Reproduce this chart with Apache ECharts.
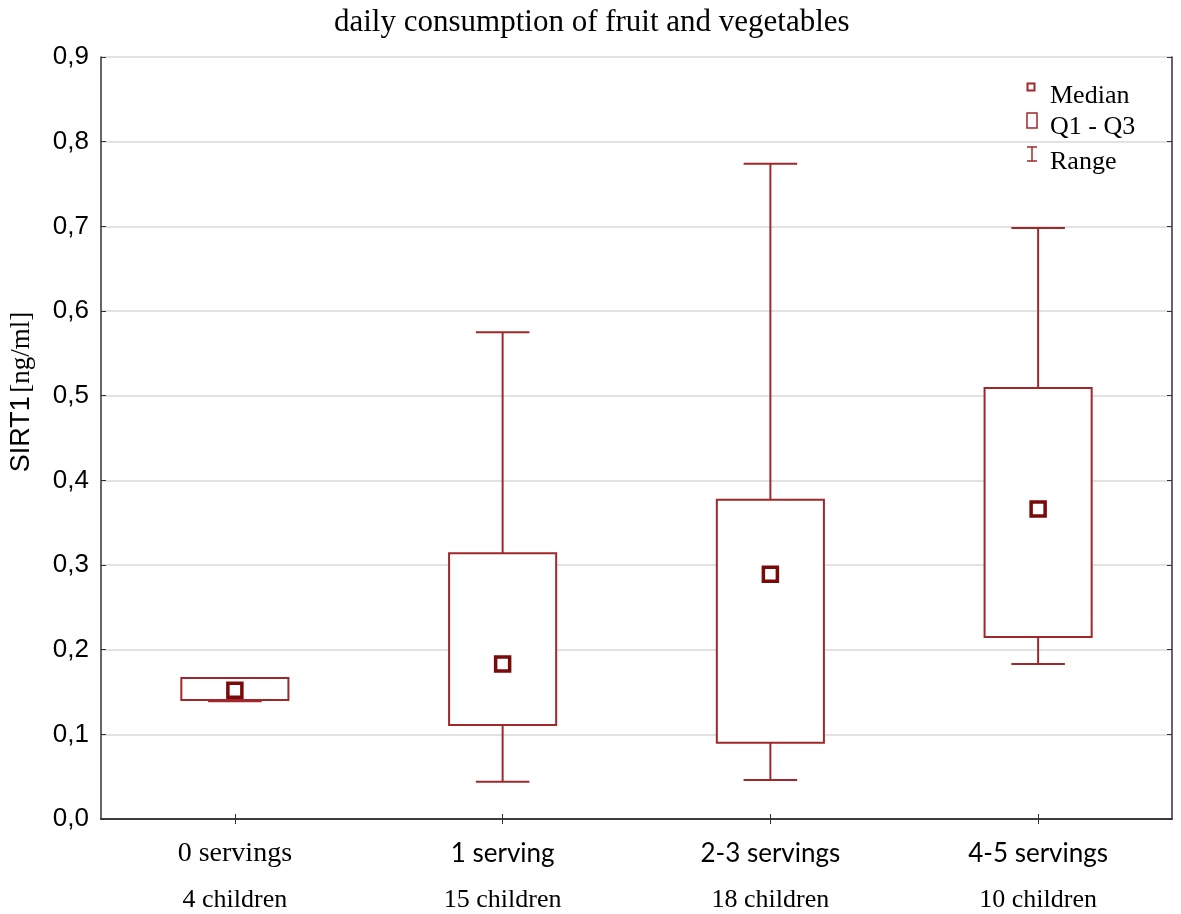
<!DOCTYPE html>
<html>
<head>
<meta charset="utf-8">
<script src="https://cdn.jsdelivr.net/npm/echarts@6/dist/echarts.min.js"></script>
<style>
    html, body { margin: 0; padding: 0; background: #fff; }
    #main { width: 1181px; height: 914px; }
</style>
</head>
<body>
<div id="main"></div>
<script>
// values (SIRT1, ng/ml)
const categories = ['0 servings', '1 serving', '2-3 servings', '4-5 servings']
const counts = ['4 children', '15 children', '18 children', '10 children']
const minValues = [0.139, 0.044, 0.046, 0.183]
const q1Values = [0.1405, 0.111, 0.090, 0.215]
const medianValues = [0.152, 0.183, 0.289, 0.366]
const q3Values = [0.1665, 0.314, 0.377, 0.509]
const maxValues = [0.1665, 0.575, 0.774, 0.698]

const boxColor = '#a0282c'
const medianColor = '#7a0a0a'
const serif = 'Liberation Serif'
const sans = 'Liberation Sans'

const chart = echarts.init(document.getElementById('main'))

function renderBox(params, api) {
    const x = api.value(0)
    const lo = api.coord([x, api.value(1)])
    const hi = api.coord([x, api.value(2)])
    const w = api.size([1, 0])[0] * 0.4
    return {
        type: 'rect',
        shape: { x: lo[0] - w / 2, y: hi[1], width: w, height: lo[1] - hi[1] },
        style: { fill: '#fff', stroke: boxColor, lineWidth: 2 }
    }
}

function renderRange(params, api) {
    const x = api.value(0)
    const pMin = api.coord([x, api.value(1)])
    const pQ1 = api.coord([x, api.value(2)])
    const pQ3 = api.coord([x, api.value(3)])
    const pMax = api.coord([x, api.value(4)])
    const c = api.size([1, 0])[0] * 0.1
    const style = { stroke: boxColor, lineWidth: 2 }
    return {
        type: 'group',
        children: [
            { type: 'line', shape: { x1: pMax[0], y1: pMax[1], x2: pQ3[0], y2: pQ3[1] }, style },
            { type: 'line', shape: { x1: pQ1[0], y1: pQ1[1], x2: pMin[0], y2: pMin[1] }, style },
            { type: 'line', shape: { x1: pMax[0] - c, y1: pMax[1], x2: pMax[0] + c, y2: pMax[1] }, style },
            { type: 'line', shape: { x1: pMin[0] - c, y1: pMin[1], x2: pMin[0] + c, y2: pMin[1] }, style }
        ]
    }
}

const frameLine = { show: true, lineStyle: { color: '#333', width: 1.5 } }
const innerTick = { show: true, inside: true, length: 5, lineStyle: { color: '#333' } }

chart.setOption({
    animation: false,
    backgroundColor: '#fff',
    title: {
        text: 'daily consumption of fruit and vegetables',
        left: 329,
        top: 2,
        textStyle: { fontFamily: serif, fontSize: 31, fontWeight: 'normal', color: '#000' }
    },
    grid: { left: 100, right: 9, top: 57, bottom: 95 },
    xAxis: [{
        type: 'category',
        data: categories,
        position: 'bottom',
        axisLine: frameLine,
        axisTick: Object.assign({ alignWithLabel: true }, innerTick),
        axisLabel: {
            margin: 13,
            interval: 0,
            formatter: (v, i) => (i === 0 ? `{s|${v}}` : `{t|${v}}`) + `\n{n|${counts[i]}}`,
            rich: {
                s: { fontFamily: serif, fontSize: 28, lineHeight: 44, color: '#000' },
                t: { fontFamily: 'Lato', fontSize: 26, lineHeight: 44, color: '#000' },
                n: { fontFamily: serif, fontSize: 26, lineHeight: 48, color: '#000' }
            }
        },
        splitLine: { show: false }
    }, {
        type: 'category',
        data: categories,
        position: 'top',
        axisLine: frameLine,
        axisTick: Object.assign({ alignWithLabel: true }, innerTick),
        axisLabel: { show: false },
        splitLine: { show: false }
    }],
    yAxis: [{
        type: 'value',
        min: 0,
        max: 0.9,
        interval: 0.1,
        position: 'left',
        name: '{a|SIRT1} {b|[ng/ml]}',
        nameLocation: 'middle',
        nameRotate: 90,
        nameGap: 66,
        nameTextStyle: {
            padding: [0, 0, 0, 92],
            rich: {
                a: { fontFamily: sans, fontSize: 27, color: '#000' },
                b: { fontFamily: serif, fontSize: 27, color: '#000' }
            }
        },
        axisLine: frameLine,
        axisTick: innerTick,
        axisLabel: {
            margin: 12,
            fontFamily: sans,
            fontSize: 26,
            color: '#000',
            formatter: v => v.toFixed(1).replace('.', ',')
        },
        splitLine: { show: true, lineStyle: { color: '#d9d9d9', width: 1.5 } }
    }, {
        type: 'value',
        min: 0,
        max: 0.9,
        interval: 0.1,
        position: 'right',
        axisLine: frameLine,
        axisTick: innerTick,
        axisLabel: { show: false },
        splitLine: { show: false }
    }],
    series: [
        {
            name: 'Q1 - Q3',
            type: 'custom',
            renderItem: renderBox,
            encode: { x: 0, y: [1, 2] },
            data: categories.map((c, i) => [i, q1Values[i], q3Values[i]]),
            z: 2
        },
        {
            name: 'Range',
            type: 'custom',
            renderItem: renderRange,
            encode: { x: 0, y: [1, 2, 3, 4] },
            data: categories.map((c, i) => [i, minValues[i], q1Values[i], q3Values[i], maxValues[i]]),
            z: 3
        },
        {
            name: 'Median',
            type: 'scatter',
            symbol: 'rect',
            symbolSize: 14,
            itemStyle: { color: '#fff', borderColor: medianColor, borderWidth: 3.5, opacity: 1 },
            data: categories.map((c, i) => [i, medianValues[i]]),
            z: 4
        }
    ],
    graphic: [
        // legend, drawn by hand to get the three different icon shapes
        { type: 'rect', shape: { x: 1027.5, y: 83.5, width: 7, height: 7 }, style: { fill: '#fff', stroke: boxColor, lineWidth: 2 } },
        { type: 'rect', shape: { x: 1027, y: 113, width: 10, height: 15 }, style: { fill: '#fff', stroke: boxColor, lineWidth: 1.5 } },
        { type: 'line', shape: { x1: 1032, y1: 147, x2: 1032, y2: 161 }, style: { stroke: boxColor, lineWidth: 1.5 } },
        { type: 'line', shape: { x1: 1027, y1: 147, x2: 1037, y2: 147 }, style: { stroke: boxColor, lineWidth: 1.5 } },
        { type: 'line', shape: { x1: 1027, y1: 161, x2: 1037, y2: 161 }, style: { stroke: boxColor, lineWidth: 1.5 } },
        { type: 'text', x: 1050, y: 96, style: { text: 'Median', fontFamily: serif, fontSize: 26, fill: '#000', verticalAlign: 'middle' } },
        { type: 'text', x: 1050, y: 127, style: { text: 'Q1 - Q3', fontFamily: serif, fontSize: 26, fill: '#000', verticalAlign: 'middle' } },
        { type: 'text', x: 1050, y: 162, style: { text: 'Range', fontFamily: serif, fontSize: 26, fill: '#000', verticalAlign: 'middle' } }
    ]
})
</script>
</body>
</html>
